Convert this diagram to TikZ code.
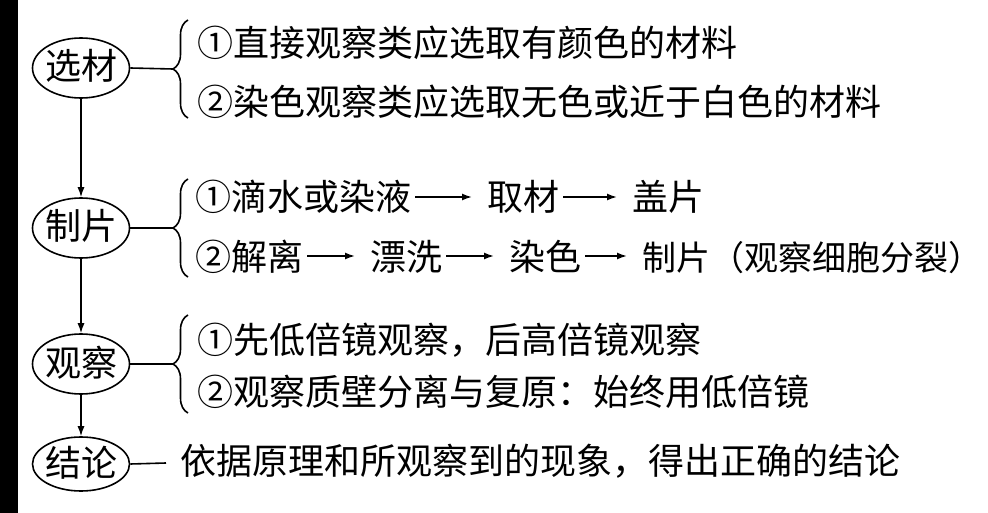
\documentclass[tikz,border=0pt]{standalone}
\usepackage{fontspec}
\setmainfont{Noto Sans CJK SC}
\usetikzlibrary{shapes.geometric,decorations.pathreplacing,arrows.meta}
\newcommand*\Caja[1]{\makebox[40pt]{#1}}

\begin{document}
\begin{tikzpicture}[
	x=1pt, y=-1pt,
	>={Latex[length=10pt,width=7pt]},
	paso/.style ={draw, ellipse, line width=1.6pt, minimum width=97pt, minimum height=60pt,
		inner sep=0pt, text height=26pt, text depth=2pt, font=\fontsize{36}{40}\selectfont},
	texto/.style ={anchor=base west, inner sep=0pt, text height=30pt, text depth=2pt,
		font=\fontsize{36}{40}\selectfont},
	llave/.style ={decorate, decoration={brace, amplitude=15pt}, line width=1.6pt},
	flecha/.style ={->, line width=1.6pt, shorten <=4pt, shorten >=15pt},
	baja/.style ={->, line width=1.3pt}]

	\useasboundingbox (0,0) rectangle (988,513);
	\fill[white] (0,0) rectangle (988,513);
	\fill[black] (0,0) rectangle (18,513);

	\def\xp{81}

	% pasos
	\node[paso] (sel) at (\xp,68) {\Caja{选材}};
	\node[paso] (pre) at (\xp,228) {\Caja{制片}};
	\node[paso] (obs) at (\xp,364) {\Caja{观察}};
	\node[paso, minimum height=54pt] (con) at (\xp,464) {\Caja{结论}};

	\draw [baja] (sel) -- (pre);
	\draw [baja] (pre) -- (obs);
	\draw [baja] (obs) -- (con);

	% llaves
	\coordinate (T1) at (173,69);
	\coordinate (T2) at (173,228);
	\coordinate (T3) at (173,364);
	\draw [llave] (188,118) -- (188,20);
	\draw [llave] (188,277) -- (188,179);
	\draw [llave] (188,413) -- (188,315);

	\draw [line width=1.6pt] (sel.east) -- (T1);
	\draw [line width=1.6pt] (pre.east) -- (T2);
	\draw [line width=1.6pt] (obs.east) -- (T3);

	% selección del material
	\node[texto] (sel1) at (197,57) {①直接观察类应选取有颜色的材料};
	\node[texto] (sel2) at (197,116) {②染色观察类应选取无色或近于白色的材料};

	% preparación
	\node[texto] (pa1) at (195,211) {①滴水或染液};
	\node[texto] (pa2) at (487,211) {取材};
	\node[texto] (pa3) at (632,211) {盖片};
	\draw [flecha] (pa1) -- (pa2);
	\draw [flecha] (pa2) -- (pa3);

	\node[texto] (pb1) at (195,270) {②解离};
	\node[texto] (pb2) at (370,270) {漂洗};
	\node[texto] (pb3) at (509,270) {染色};
	\node[texto, font=\fontsize{34}{38}\selectfont] (pb4) at (642,270) {制片（观察细胞分裂）};
	\draw [flecha] (pb1) -- (pb2);
	\draw [flecha] (pb2) -- (pb3);
	\draw [flecha] (pb3) -- (pb4);

	% observación
	\node[texto] (obs1) at (197,353) {①先低倍镜观察，后高倍镜观察};
	\node[texto] (obs2) at (197,405) {②观察质壁分离与复原：始终用低倍镜};

	% conclusión
	\coordinate (C1) at (166,463);
	\draw [line width=1.6pt] (con.east) -- (C1);
	\node[texto] (con1) at (180,474) {依据原理和所观察到的现象，得出正确的结论};

\end{tikzpicture}
\end{document}
